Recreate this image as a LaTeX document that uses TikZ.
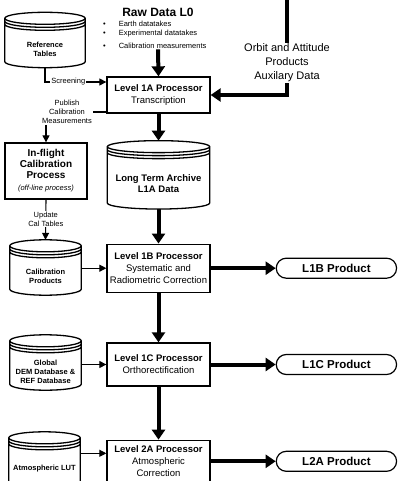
\documentclass[tikz,border=0pt]{standalone}
\usepackage{fontspec}
\setmainfont{Liberation Sans}
\usepackage{tikz}
\usetikzlibrary{positioning}
\usetikzlibrary{calc}
\usetikzlibrary{shapes.misc}
\usetikzlibrary{arrows.meta}

\begin{document}
\begin{tikzpicture}[
        x=1pt, y=-1pt,
        proc/.style={rectangle, draw, line width=1.3pt, minimum width=103pt, align=center, inner sep=2pt, font=\fontsize{9.5}{12}\selectfont},
        dbase/.style={rectangle, minimum width=#1, minimum height=37pt, inner sep=0pt, align=center, font=\bfseries\fontsize{7.5}{9}\selectfont},
        prod/.style={rounded rectangle, draw, line width=1.2pt, minimum width=127pt, minimum height=20pt, font=\bfseries\fontsize{11.5}{13}\selectfont},
        note/.style={align=center, inner sep=1pt, font=\fontsize{7.5}{9}\selectfont},
        flow/.style={line width=1.1pt, -{Triangle[length=7pt,width=7pt]}},
        bigflow/.style={line width=4pt, -{Triangle[length=10pt,width=13pt]}},
        dbline/.style={line width=1.3pt}
    ]
        \useasboundingbox (0,0) rectangle (407,481);

        % processing chain
        \node[proc, minimum height=36pt](l1a) at (158.5,95){\textbf{Level 1A Processor}\\Transcription};
            \node[dbase=102pt, minimum height=50pt, font=\bfseries\fontsize{9.5}{11}\selectfont](archive)[below=45pt of l1a]{Long Term Archive\\L1A Data};
                \node[proc, minimum height=48pt](l1b)[below=34.5pt of archive]{\textbf{Level 1B Processor}\\Systematic and\\Radiometric Correction};
                    \node[proc, minimum height=43pt](l1c)[below=49.5pt of l1b]{\textbf{Level 1C Processor}\\Orthorectification};
                        \node[proc, minimum height=42pt](l2a)[below=53pt of l1c]{\textbf{Level 2A Processor}\\Atmospheric\\Correction};

        % products
        \node[prod](p1b)[right=65pt of l1b]{L1B Product};
        \node[prod](p1c)[right=65pt of l1c]{L1C Product};
        \node[prod](p2a)[right=65pt of l2a]{L2A Product};

        % inputs
        \node[font=\bfseries\fontsize{12}{14}\selectfont](raw) at (158,12){Raw Data L0};
        \node[note, anchor=north west, align=left](rawlist) at (102,19.5){\textbullet\hspace{13pt}Earth datatakes\\\textbullet\hspace{13pt}Experimental datatakes\\[4pt]\textbullet\hspace{13pt}Calibration measurements};
        \coordinate (orbtop) at (287,0);
        \node[align=center, inner sep=1pt, font=\fontsize{11}{14}\selectfont](orbit) at (287,63){Orbit and Attitude\\Products\\Auxilary Data};

        % left column
        \node[dbase=80pt](reftab) at (45,49){Reference\\Tables};
        \node[note](publish) at (67,112){Publish\\Calibration\\Measurements};
        \node[proc, minimum width=82pt, minimum height=56pt, font=\bfseries\fontsize{10}{11}\selectfont](inflight) at (46,171){In-flight\\Calibration\\Process\\[1pt]{\mdseries\itshape\fontsize{7.5}{9}\selectfont(off-line process)}};
        \node[dbase=71pt](calprod) at (45.5,276.5){Calibration\\Products};
        \node[dbase=71pt](dem) at (45.5,371.5){Global\\DEM Database \&\\REF Database};
        \node[dbase=71pt](lut) at (44.5,468.5){Atmospheric LUT};

        % cylinders
        \foreach \c in {reftab,archive,calprod,dem,lut}{
            \draw[dbline] let \p1=($(\c.east)-(\c.west)$), \n1={0.5*\x1} in
                ($(\c.north west)+(0,12pt)$) -- ($(\c.south west)+(0,6pt)$)
                arc[start angle=180, end angle=360, x radius={\n1*1pt}, y radius=6pt]
                -- ($(\c.north east)+(0,12pt)$)
                ($(\c.north)+(0,12pt)$) ellipse[x radius={\n1*1pt}, y radius=6pt]
                ($(\c.north west)+(0,9pt)$) arc[start angle=180, end angle=360, x radius={\n1*1pt}, y radius=6pt]
                ($(\c.north west)+(0,6pt)$) arc[start angle=180, end angle=360, x radius={\n1*1pt}, y radius=6pt];
        }

        \draw[bigflow] (raw.south |- rawlist.south) -- (l1a.north);
        \draw[line width=4pt] (orbtop) -- (orbit.north);
        \draw[bigflow] (orbit.south) |- (l1a.east);
        \draw[bigflow] (l1a.south) -- ([yshift=18pt]archive.north);
        \draw[bigflow] (archive.south) -- (l1b.north);
        \draw[bigflow] (l1b.south) -- (l1c.north);
        \draw[bigflow] (l1c.south) -- (l2a.north);
        \draw[bigflow] (l1b.east) -- (p1b.west);
        \draw[bigflow] (l1c.east) -- (p1c.west);
        \draw[bigflow] (l2a.east) -- (p2a.west);

        \draw[flow] (reftab.south) |- ([yshift=13pt]l1a.west) node[note, fill=white, pos=0.69](screen){Screening};
        \draw[line width=1.1pt] (publish.east -| l1a.west) -- (publish.east);
        \draw[flow] (publish.south -| inflight.north) -- (inflight.north);
        \draw[flow] (inflight.south) -- ([yshift=18pt]calprod.north) node[note, fill=white, pos=0.48](update){Update\\Cal Tables};
        \draw[flow] (calprod.east |- l1b.west) -- (l1b.west);
        \draw[flow] (dem.east |- l1c.west) -- (l1c.west);
        \draw[flow] ([yshift=8pt]l2a.west -| lut.east) -- ([yshift=8pt]l2a.west);
    \end{tikzpicture}
\end{document}
